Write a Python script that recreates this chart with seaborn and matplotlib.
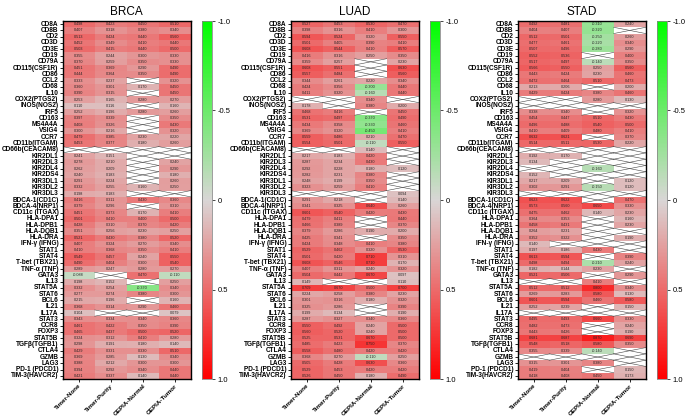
import numpy as np
import pandas as pd
import matplotlib
matplotlib.use("Agg")
import matplotlib.pyplot as plt
import seaborn as sns
from matplotlib.colors import LinearSegmentedColormap

X = np.nan

genes = ["CD8A", "CD8B", "CD2", "CD3D", "CD3E", "CD19", "CD79A", "CD115(CSF1R)", "CD86",
         "CCL2", "CD68", "IL10", "COX2(PTGS2)", "INOS(NOS2)", "IRF5", "CD163", "MS4A4A",
         "VSIG4", "CCR7", "CD11b(ITGAM)", "CD66b(CEACAM8)", "KIR2DL1", "KIR2DL3", "KIR2DL4",
         "KIR2DS4", "KIR3DL1", "KIR3DL2", "KIR3DL3", "BDCA-1(CD1C)", "BDCA-4(NRP1)",
         "CD11c (ITGAX)", "HLA-DPA1", "HLA-DPB1", "HLA-DQB1", "HLA-DRA", "IFN-γ (IFNG)",
         "STAT1", "STAT4", "T-bet (TBX21)", "TNF-α (TNF)", "GATA3", "IL13", "STAT5A", "STAT6",
         "BCL6", "IL21", "IL17A", "STAT3", "CCR8", "FOXP3", "STAT5B", "TGFβ(TGFB1)", "CTLA4",
         "GZMB", "LAG3", "PD-1 (PDCD1)", "TIM-3(HAVCR2)"]

methods = ["Timer-None", "Timer-Purity", "GEPIA-Normal", "GEPIA-Tumor"]
cancers = ["BRCA", "LUAD", "STAD"]

# ---------------- BRCA ----------------
brca_timer_none = [0.498, 0.407, 0.513, 0.452, 0.503, 0.355, 0.370, 0.451, 0.444, 0.333, 0.360, 0.390,
                   0.253, 0.110, 0.252, 0.397, 0.408, 0.300, 0.479, 0.453, X, 0.241, 0.278, 0.262,
                   0.240, 0.291, 0.332, 0.198, 0.416, 0.379, 0.451, 0.501, 0.428, 0.351, 0.521, 0.407,
                   0.410, 0.549, 0.490, 0.289, -0.088, 0.198, 0.332, 0.277, 0.215, 0.368, 0.104, 0.343,
                   0.461, 0.465, 0.324, 0.298, 0.429, 0.369, 0.388, 0.394, 0.421]
brca_timer_purity = [0.423, 0.318, 0.424, 0.349, 0.415, 0.244, 0.259, 0.369, 0.364, 0.237, 0.301, 0.315,
                     0.165, 0.116, 0.196, 0.339, 0.326, 0.216, 0.385, 0.377, X, 0.151, 0.210, 0.209,
                     0.183, 0.224, 0.255, 0.183, 0.311, 0.296, 0.373, 0.410, 0.310, 0.256, 0.430, 0.324,
                     0.368, 0.457, 0.404, 0.247, X, 0.152, 0.254, 0.274, 0.196, 0.314, X, 0.334,
                     0.422, 0.437, 0.312, 0.191, 0.331, 0.285, 0.212, 0.292, 0.337]
brca_gepia_normal = [0.450, 0.380, 0.440, 0.410, 0.440, 0.300, 0.350, 0.290, 0.350, X, 0.170, X,
                     0.280, X, 0.280, X, X, X, 0.230, 0.180, X, X, X, X,
                     X, X, 0.160, X, 0.430, X, 0.170, 0.400, 0.370, 0.230, 0.380, 0.270,
                     0.350, 0.240, 0.300, 0.280, 0.470, X, -0.370, 0.380, X, 0.290, X, 0.340,
                     0.350, 0.500, 0.410, 0.180, 0.330, 0.130, 0.300, 0.340, 0.140]
brca_gepia_tumor = [0.510, 0.340, 0.560, 0.440, 0.500, 0.330, 0.330, 0.490, 0.490, 0.320, 0.450, 0.450,
                    0.270, 0.160, 0.260, 0.350, 0.430, 0.320, 0.220, 0.260, X, X, 0.240, 0.290,
                    0.180, 0.260, 0.250, X, 0.360, 0.310, 0.410, 0.500, 0.420, 0.250, 0.520, 0.340,
                    0.410, 0.550, 0.540, 0.270, -0.110, 0.250, 0.340, 0.300, 0.160, 0.460, 0.079, 0.360,
                    0.390, 0.520, 0.280, 0.140, 0.510, 0.340, 0.300, 0.440, 0.440]

# ---------------- LUAD ----------------
luad_timer_none = [0.527, 0.398, 0.594, 0.501, 0.608, 0.416, 0.359, 0.608, 0.557, 0.344, 0.424, 0.411,
                   X, 0.178, 0.468, 0.531, 0.434, 0.369, 0.559, 0.554, X, 0.217, 0.287, 0.292,
                   0.282, 0.248, 0.323, X, 0.291, 0.341, 0.601, 0.479, 0.466, 0.379, 0.425, 0.424,
                   0.529, 0.501, 0.608, 0.407, 0.504, 0.149, 0.709, 0.224, 0.301, 0.325, 0.199, 0.287,
                   0.550, 0.560, 0.525, 0.485, 0.558, 0.368, 0.505, 0.529, 0.526]
luad_timer_purity = [0.453, 0.316, 0.524, 0.405, 0.544, 0.316, 0.257, 0.551, 0.484, 0.261, 0.356, 0.320,
                     X, X, 0.416, 0.497, 0.358, 0.320, 0.486, 0.501, X, 0.183, 0.234, 0.228,
                     0.231, 0.199, 0.259, X, 0.218, 0.325, 0.540, 0.411, 0.389, 0.286, 0.341, 0.348,
                     0.462, 0.420, 0.546, 0.311, 0.442, X, 0.670, 0.258, 0.316, 0.286, 0.134, 0.327,
                     0.492, 0.520, 0.531, 0.423, 0.480, 0.270, 0.428, 0.453, 0.450]
luad_gepia_normal = [0.530, 0.410, 0.320, 0.390, 0.410, 0.250, X, X, X, 0.220, -0.300, -0.160,
                     0.340, 0.380, X, -0.370, -0.330, -0.450, 0.210, -0.110, 0.140, 0.420, 0.430, 0.180,
                     0.380, 0.350, 0.410, X, X, 0.640, 0.420, X, X, 0.190, X, 0.410,
                     0.320, 0.710, 0.710, 0.240, 0.670, X, 0.500, 0.380, 0.180, X, X, 0.340,
                     0.240, 0.240, 0.670, 0.750, 0.420, -0.110, 0.630, 0.420, 0.180]
luad_gepia_tumor = [0.470, 0.300, 0.550, 0.410, 0.570, 0.350, 0.230, 0.630, 0.560, 0.340, 0.440, 0.440,
                    X, 0.200, 0.450, 0.490, 0.460, 0.410, 0.470, 0.550, X, X, X, 0.120,
                    X, X, X, 0.094, 0.140, 0.260, 0.430, 0.440, 0.370, 0.200, 0.350, 0.380,
                    0.530, 0.310, 0.170, 0.320, 0.097, 0.110, 0.700, 0.230, 0.320, 0.390, 0.190, 0.360,
                    0.500, 0.500, 0.500, 0.370, 0.420, 0.250, 0.360, 0.420, 0.490]

# ---------------- STAD ----------------
stad_timer_none = [0.492, 0.404, 0.512, 0.477, 0.507, 0.552, 0.517, 0.566, 0.443, 0.472, 0.213, 0.429,
                   X, X, 0.338, 0.454, 0.496, 0.410, 0.632, 0.514, X, 0.192, 0.134, X,
                   0.152, 0.217, 0.302, X, 0.623, 0.573, 0.475, 0.364, 0.458, 0.264, 0.352, 0.140,
                   0.197, 0.613, 0.498, 0.182, 0.521, X, 0.512, 0.269, 0.601, 0.252, X, 0.495,
                   0.482, 0.443, 0.681, 0.548, 0.355, X, 0.315, 0.419, 0.418]
stad_timer_purity = [0.481, 0.407, 0.501, 0.461, 0.496, 0.536, 0.497, 0.550, 0.424, 0.464, 0.206, 0.424,
                     X, X, 0.340, 0.447, 0.488, 0.409, 0.621, 0.511, X, 0.170, X, X,
                     X, 0.209, 0.291, X, 0.622, 0.560, 0.462, 0.353, 0.431, 0.231, 0.322, X,
                     0.186, 0.594, 0.494, 0.144, 0.506, X, 0.512, 0.283, 0.594, 0.239, X, 0.493,
                     0.473, 0.426, 0.687, 0.518, 0.339, X, 0.301, 0.404, 0.408]
stad_gepia_normal = [-0.310, -0.320, -0.250, -0.220, -0.280, X, -0.140, 0.250, 0.230, 0.510, X, 0.380,
                     0.280, X, X, 0.510, 0.540, 0.480, X, 0.530, X, X, X, -0.160,
                     X, X, -0.150, X, X, 0.650, 0.140, X, X, X, X, X,
                     0.430, X, -0.210, 0.230, X, 0.410, 0.800, 0.580, 0.460, X, X, 0.660,
                     X, X, 0.870, 0.580, -0.140, X, 0.380, X, 0.450]
stad_gepia_tumor = [0.240, X, 0.260, 0.340, 0.290, 0.400, 0.350, 0.560, 0.460, 0.473, 0.200, 0.460,
                    0.130, X, 0.320, 0.430, 0.500, 0.410, 0.370, 0.220, X, X, X, X,
                    X, 0.120, 0.120, X, 0.470, 0.330, 0.230, 0.160, 0.230, X, 0.190, X,
                    X, 0.390, 0.240, X, 0.290, X, 0.340, 0.130, 0.580, 0.150, X, 0.330,
                    0.240, 0.190, 0.690, 0.350, X, X, X, 0.150, 0.173]

tables = {
    "BRCA": [brca_timer_none, brca_timer_purity, brca_gepia_normal, brca_gepia_tumor],
    "LUAD": [luad_timer_none, luad_timer_purity, luad_gepia_normal, luad_gepia_tumor],
    "STAD": [stad_timer_none, stad_timer_purity, stad_gepia_normal, stad_gepia_tumor],
}

cmap = LinearSegmentedColormap.from_list("gr", ["#00FF00", "#D9D6D6", "#FF0000"])

W, H = 685, 419
fig = plt.figure(figsize=(W / 100, H / 100), dpi=100)
plt.rcParams['font.family'] = ['Liberation Sans', 'DejaVu Sans']

offsets = [0, 228, 455]
hm_left, hm_w = 62.7, 128
top, bottom = 21, 379
cb_left, cb_w = 202, 10

for k, name in enumerate(cancers):
    df = pd.DataFrame(dict(zip(methods, tables[name])), index=genes)
    ax = fig.add_axes([(offsets[k] + hm_left) / W, (H - bottom) / H, hm_w / W, (bottom - top) / H])
    cax = fig.add_axes([(offsets[k] + cb_left) / W, (H - bottom) / H, cb_w / W, (bottom - top) / H])
    sns.heatmap(df, ax=ax, cbar_ax=cax, cmap=cmap, vmin=-1, vmax=1, annot=True, fmt=".3f",
                annot_kws={"fontsize": 2.7, "color": "#222222"}, linewidths=0)
    ax.set_facecolor("white")
    vals = df.values
    nr, nc = vals.shape
    for i in range(nr):
        for j in range(nc):
            if np.isnan(vals[i, j]):
                ax.plot([j, j + 1], [i, i + 1], color="#444444", lw=0.4)
                ax.plot([j, j + 1], [i + 1, i], color="#444444", lw=0.4)
    for sp in ax.spines.values():
        sp.set_visible(True)
        sp.set_color("black")
        sp.set_linewidth(1.0)
    ax.set_title(name, fontsize=8.5, pad=4)
    ax.set_yticks(np.arange(nr) + 0.5)
    ax.set_yticklabels(genes, fontsize=4.7, fontweight="bold", rotation=0)
    ax.set_xticks(np.arange(nc) + 0.5)
    ax.set_xticklabels(methods, fontsize=4.5, fontweight="bold", rotation=45,
                       ha="right", rotation_mode="anchor")
    ax.tick_params(axis="both", length=2, width=0.6, pad=1)
    ax.set_xlabel("")
    ax.set_ylabel("")
    # colorbar
    cax.invert_yaxis()
    cax.set_yticks([-1, -0.5, 0, 0.5, 1])
    cax.set_yticklabels(["-1.0", "-0.5", "0", "0.5", "1.0"], fontsize=5.5)
    cax.tick_params(length=2, width=0.5, pad=2)
    for sp in cax.spines.values():
        sp.set_visible(True)
        sp.set_linewidth(0.4)
        sp.set_color("#888888")

fig.savefig("out.png", dpi=100)
